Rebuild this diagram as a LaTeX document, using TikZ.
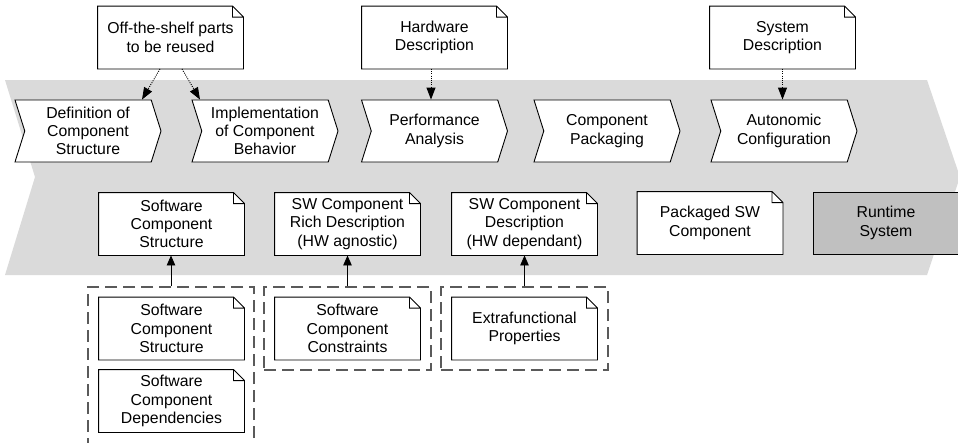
\documentclass[tikz,border=0pt]{standalone}
\usepackage{fontspec}
\setmainfont{Liberation Sans}
\usetikzlibrary{shapes.symbols,arrows.meta}

% Document shape: a rectangle with a folded top-right corner
\makeatletter
\pgfdeclareshape{dognote}{%
  \inheritsavedanchors[from=rectangle]%
  \inheritanchorborder[from=rectangle]%
  \inheritanchor[from=rectangle]{center}%
  \inheritanchor[from=rectangle]{north}%
  \inheritanchor[from=rectangle]{south}%
  \inheritanchor[from=rectangle]{east}%
  \inheritanchor[from=rectangle]{west}%
  \inheritanchor[from=rectangle]{north east}%
  \inheritanchor[from=rectangle]{north west}%
  \inheritanchor[from=rectangle]{south east}%
  \inheritanchor[from=rectangle]{south west}%
  \inheritanchor[from=rectangle]{text}%
  \inheritanchor[from=rectangle]{base}%
  \inheritanchor[from=rectangle]{mid}%
  \backgroundpath{%
    \southwest \pgf@xa=\pgf@x \pgf@ya=\pgf@y
    \northeast \pgf@xb=\pgf@x \pgf@yb=\pgf@y
    \pgf@xc=\pgf@xb \advance\pgf@xc by -11pt
    \pgf@yc=\pgf@yb \advance\pgf@yc by -11pt
    \pgfpathmoveto{\pgfpoint{\pgf@xa}{\pgf@ya}}%
    \pgfpathlineto{\pgfpoint{\pgf@xa}{\pgf@yb}}%
    \pgfpathlineto{\pgfpoint{\pgf@xc}{\pgf@yb}}%
    \pgfpathlineto{\pgfpoint{\pgf@xb}{\pgf@yc}}%
    \pgfpathlineto{\pgfpoint{\pgf@xb}{\pgf@ya}}%
    \pgfpathclose
    \pgfpathmoveto{\pgfpoint{\pgf@xb}{\pgf@yc}}%
    \pgfpathlineto{\pgfpoint{\pgf@xc}{\pgf@yc}}%
    \pgfpathlineto{\pgfpoint{\pgf@xc}{\pgf@yb}}%
  }%
}
\makeatother

\definecolor{bandgray}{RGB}{218,218,218}
\definecolor{rungray}{RGB}{192,192,192}
\definecolor{groupline}{RGB}{90,90,90}

\tikzset{
  txt/.style={font=\fontsize{15.8}{18.3}\selectfont, align=center},
  doc/.style={txt, shape=dognote, draw=black, fill=white, line width=0.9pt,
    minimum width=145pt, minimum height=62pt, inner sep=0pt},
  stepbox/.style={txt, shape=signal, signal from=west, signal to=east,
    signal pointer angle=145, draw=black, fill=white, line width=0.9pt,
    minimum width=146pt, minimum height=62pt, inner sep=0pt},
  runbox/.style={txt, draw=black, fill=rungray, line width=0.9pt,
    minimum width=146pt, minimum height=62pt, inner sep=0pt},
  groupbox/.style={draw=groupline, dash pattern=on 12pt off 6pt, line width=1.1pt,
    inner sep=0pt},
  usearrow/.style={-{Triangle[length=10pt,width=8.5pt]}, line width=0.9pt},
  feedarrow/.style={-{Triangle[length=12pt,width=9pt]}, dash pattern=on 1pt off 1.2pt,
    line width=0.9pt},
}

\begin{document}
\begin{tikzpicture}[x=1pt, y=-1pt]
\useasboundingbox (0,0) rectangle (958,442);
\clip (0,0) rectangle (958,442);

% process band
\fill[bandgray] (5,80) -- (927,80) -- (960,177) -- (927,275) -- (5,275) -- (35,177) -- cycle;

% inputs
\node[doc] (n1) at (170.5,37.5) {Off-the-shelf parts\\to be reused};
\node[doc] (n2) at (434.5,37.5) {Hardware\\Description};
\node[doc] (n3) at (782.5,37.5) {System\\Description};

% process steps
\node[stepbox] (s1) at (88,131) {Definition of\\Component\\Structure};
\node[stepbox] (s2) at (265,131) {Implementation\\of Component\\Behavior};
\node[stepbox] (s3) at (434.5,131) {Performance\\Analysis};
\node[stepbox] (s4) at (607,131) {Component\\Packaging};
\node[stepbox] (s5) at (784,131) {Autonomic\\Configuration};

% artefacts
\node[doc] (a1) at (171.5,224) {Software\\Component\\Structure};
\node[doc] (a2) at (347.5,224) {SW Component\\Rich Description\\(HW agnostic)};
\node[doc] (a3) at (524.5,224) {SW Component\\Description\\(HW dependant)};
\node[doc] (a4) at (710,223) {Packaged SW\\Component};
\node[runbox] (rt) at (886,223) {Runtime\\System};

% groups of inputs
\node[groupbox, minimum width=166pt, minimum height=183pt] (g1) at (171,378.5) {};
\node[groupbox, minimum width=167pt, minimum height=83pt] (g2) at (347.5,328.5) {};
\node[groupbox, minimum width=167pt, minimum height=83pt] (g3) at (524.5,328.5) {};

\node[doc] (b1) at (171.5,328.5) {Software\\Component\\Structure};
\node[doc] (b2) at (171.5,401) {Software\\Component\\Dependencies};
\node[doc] (c1) at (347.5,328.5) {Software\\Component\\Constraints};
\node[doc] (d1) at (524.5,328.5) {Extrafunctional\\Properties};

% feeds into the steps
\draw[feedarrow] ([xshift=-10.5pt]n1.south) -- ([xshift=54pt]s1.north);
\draw[feedarrow] ([xshift=11.5pt]n1.south) -- ([xshift=-65pt]s2.north);
\draw[feedarrow] ([xshift=-3.5pt]n2.south) -- ([xshift=-3.5pt]s3.north);
\draw[feedarrow] (n3.south) -- (n3.south |- s5.north);

% groups to artefacts
\draw[usearrow] (g1.north) -- (g1.north |- a1.south);
\draw[usearrow] (g2.north) -- (g2.north |- a2.south);
\draw[usearrow] (g3.north) -- (g3.north |- a3.south);
\end{tikzpicture}
\end{document}
